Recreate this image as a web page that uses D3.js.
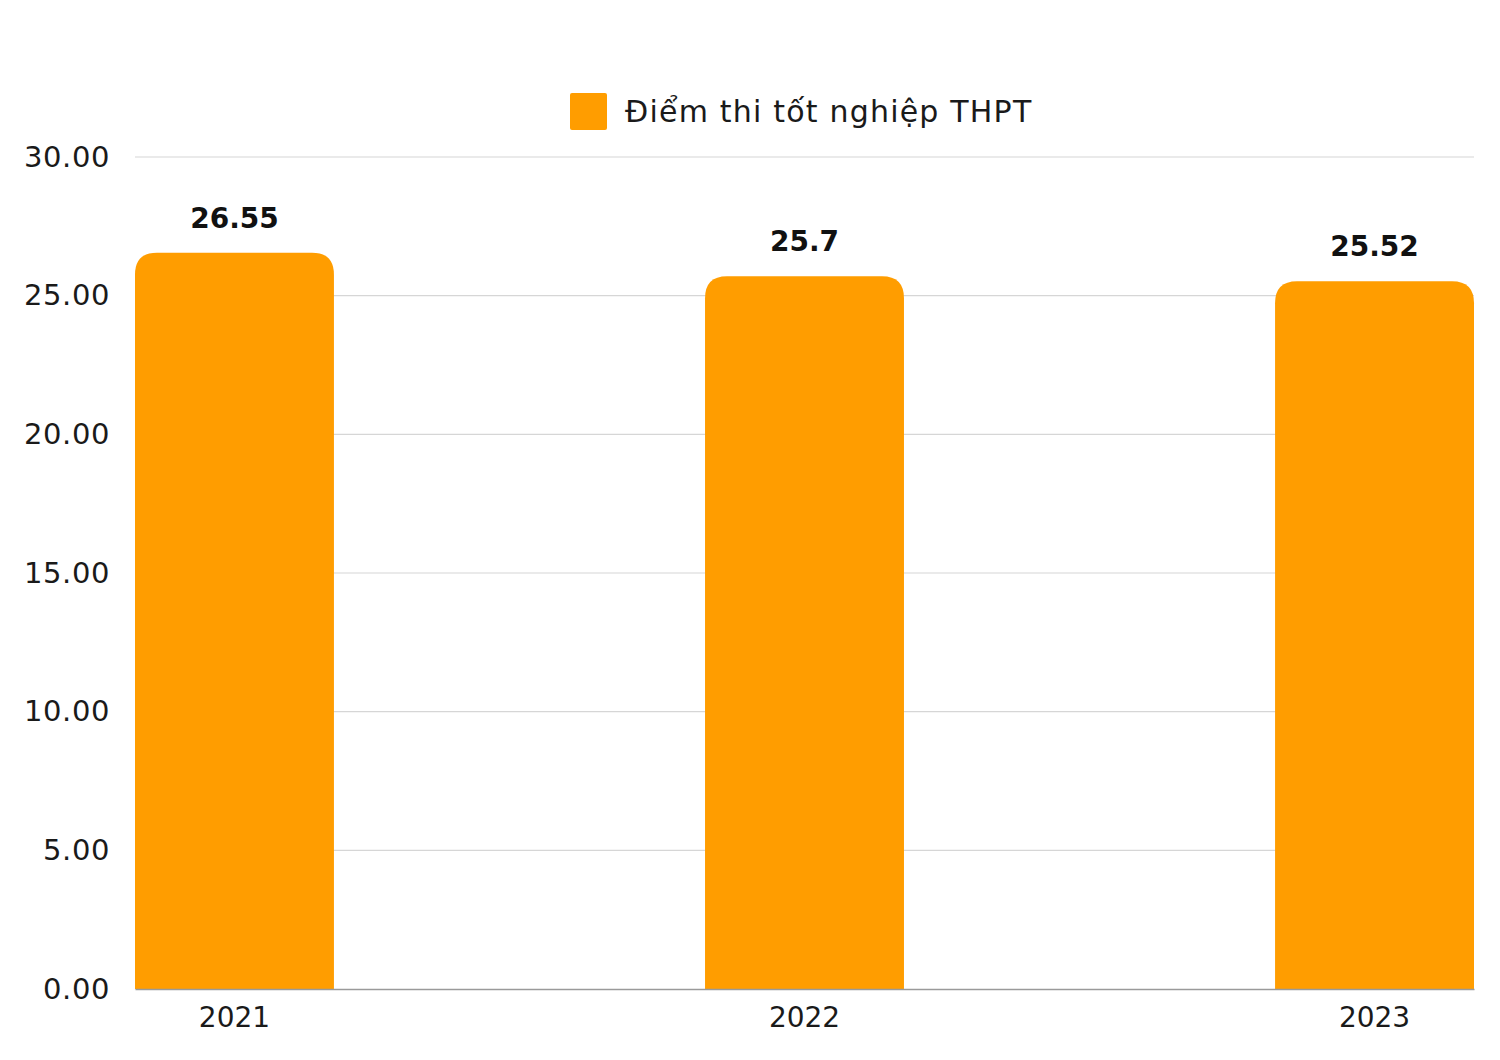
<!DOCTYPE html>
<html>
<head>
<meta charset="utf-8">
<script src="https://cdn.jsdelivr.net/npm/d3@7"></script>
<style>
  html, body { margin: 0; padding: 0; background: #ffffff; }
  svg { display: block; }
  text { font-family: "DejaVu Sans", "Noto Sans", sans-serif; }
</style>
</head>
<body>
<svg id="chart" width="1500" height="1060"></svg>
<script>
const categories = ["2021", "2022", "2023"];
const values = [26.55, 25.7, 25.52];
const valueLabels = ["26.55", "25.7", "25.52"];
const yTicks = [0, 5, 10, 15, 20, 25, 30];
const seriesName = "Điểm thi tốt nghiệp THPT";

const W = 1500, H = 1060;
const margin = { left: 135, right: 26, top: 157, bottom: 71 };
const barColor = "#FF9D00";

const svg = d3.select("#chart");

const x = d3.scaleBand()
  .domain(categories)
  .range([margin.left, W - margin.right])
  .paddingInner(0.651)
  .paddingOuter(0);

const y = d3.scaleLinear()
  .domain([0, 30])
  .range([H - margin.bottom, margin.top]);

// gridlines
svg.append("g")
  .selectAll("line")
  .data(yTicks.filter(d => d > 0))
  .join("line")
  .attr("x1", margin.left)
  .attr("x2", W - margin.right)
  .attr("y1", d => y(d))
  .attr("y2", d => y(d))
  .attr("stroke", "#d6d6d6")
  .attr("stroke-width", 1.2);

// y axis labels
const yAxis = d3.axisLeft(y).tickValues(yTicks).tickFormat(d3.format(".2f")).tickSize(0).tickPadding(25);
const gy = svg.append("g").attr("transform", `translate(${margin.left},0)`).call(yAxis);
gy.select(".domain").remove();
gy.selectAll("text")
  .attr("font-size", 29)
  .attr("fill", "#1a1a1a")
  .attr("letter-spacing", 0.6)
  .attr("font-family", "DejaVu Sans, sans-serif");

// bars with rounded top corners
const r = 22;
function barPath(x0, w, yTop, yBot) {
  return `M${x0},${yBot} L${x0},${yTop + r} Q${x0},${yTop} ${x0 + r},${yTop} L${x0 + w - r},${yTop} Q${x0 + w},${yTop} ${x0 + w},${yTop + r} L${x0 + w},${yBot} Z`;
}
svg.append("g")
  .selectAll("path")
  .data(categories)
  .join("path")
  .attr("d", (c, i) => barPath(x(c), x.bandwidth(), y(values[i]), y(0)))
  .attr("fill", barColor);

// x axis
const xAxis = d3.axisBottom(x).tickSize(0).tickPadding(17);
const gx = svg.append("g").attr("transform", `translate(0,${y(0)})`).call(xAxis);
gx.select(".domain").attr("stroke", "#9a9a9a").attr("stroke-width", 1.5);
gx.selectAll("text")
  .attr("font-size", 28)
  .attr("fill", "#1a1a1a")
  .attr("font-family", "DejaVu Sans, sans-serif")
  .attr("dy", "0.75em");

// value labels
svg.append("g")
  .selectAll("text")
  .data(categories)
  .join("text")
  .attr("x", c => x(c) + x.bandwidth() / 2)
  .attr("y", (c, i) => y(values[i]) - 25)
  .attr("text-anchor", "middle")
  .attr("font-size", 28)
  .attr("font-weight", "bold")
  .attr("fill", "#111")
  .text((c, i) => valueLabels[i]);

// legend
const lg = svg.append("g");
lg.append("rect")
  .attr("x", 570).attr("y", 93).attr("width", 37).attr("height", 37)
  .attr("rx", 2).attr("fill", barColor);
lg.append("text")
  .attr("x", 625).attr("y", 122)
  .attr("font-size", 30)
  .attr("letter-spacing", 1.2)
  .attr("fill", "#1a1a1a")
  .text(seriesName);
</script>
</body>
</html>
